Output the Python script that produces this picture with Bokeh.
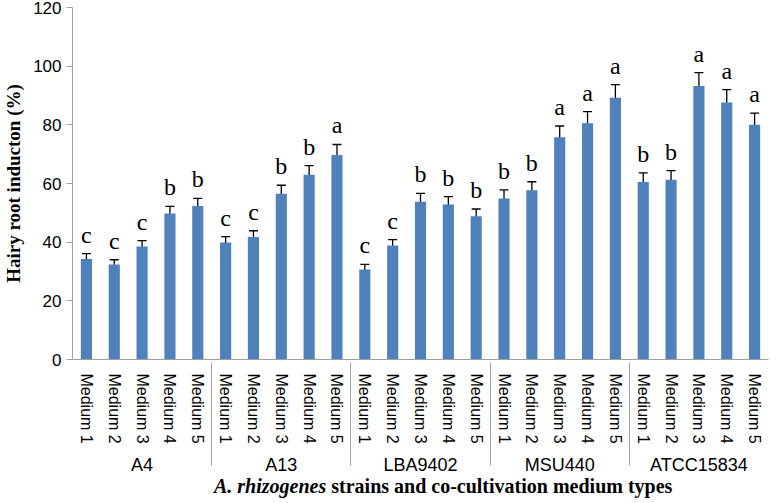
from bokeh.plotting import figure
from bokeh.models import ColumnDataSource, FactorRange, Whisker, TeeHead, FixedTicker, Div
from bokeh.layouts import column
from bokeh.core.properties import value
from bokeh.embed import file_html
from bokeh.resources import INLINE

strains = ["A4", "A13", "LBA9402", "MSU440", "ATCC15834"]
media = ["Medium 1", "Medium 2", "Medium 3", "Medium 4", "Medium 5"]

a4 = [34.3, 32.4, 38.5, 49.8, 52.3]
a13 = [39.9, 41.8, 56.5, 63.0, 69.7]
lba9402 = [30.7, 38.9, 53.8, 52.8, 48.8]
msu440 = [54.9, 57.7, 75.8, 80.5, 89.2]
atcc15834 = [60.5, 61.3, 93.2, 87.6, 80.0]

a4_err = [1.8, 1.6, 2.0, 2.4, 2.6]
a13_err = [2.0, 2.1, 2.9, 3.1, 3.6]
lba9402_err = [1.7, 2.0, 2.8, 2.7, 2.5]
msu440_err = [2.9, 2.9, 3.8, 4.0, 4.5]
atcc15834_err = [3.1, 3.1, 4.6, 4.4, 4.0]

a4_let = ["c", "c", "c", "b", "b"]
a13_let = ["c", "c", "b", "b", "a"]
lba9402_let = ["c", "c", "b", "b", "b"]
msu440_let = ["b", "b", "a", "a", "a"]
atcc15834_let = ["b", "b", "a", "a", "a"]

y_ticks = [0, 20, 40, 60, 80, 100, 120]

vals = [a4, a13, lba9402, msu440, atcc15834]
errs = [a4_err, a13_err, lba9402_err, msu440_err, atcc15834_err]
lets = [a4_let, a13_let, lba9402_let, msu440_let, atcc15834_let]

x, top, lo, hi, letter = [], [], [], [], []
for s, v, e, l in zip(strains, vals, errs, lets):
    for m, vv, ee, ll in zip(media, v, e, l):
        x.append((s, m))
        top.append(vv)
        lo.append(vv - ee)
        hi.append(vv + ee)
        letter.append(ll)

src = ColumnDataSource(dict(x=x, top=top, lo=lo, hi=hi, letter=letter))

p = figure(x_range=FactorRange(*x, range_padding=0, factor_padding=0, group_padding=0),
           y_range=(0, 120), width=770, height=477,
           output_backend="svg", toolbar_location=None,
           min_border_left=55, min_border_right=2, min_border_top=7, min_border_bottom=110)
p.outline_line_color = None
p.grid.visible = False
p.background_fill_color = "white"

p.vbar(x="x", top="top", width=0.4, source=src, fill_color="#4F81BD", line_color=None)
w = Whisker(base="x", lower="lo", upper="hi", source=src, line_color="black", line_width=1.3)
w.upper_head = TeeHead(size=9, line_color="black", line_width=1.3)
w.lower_head = TeeHead(size=9, line_color="black", line_width=1.3)
p.add_layout(w)

p.text(x="x", y="hi", text="letter", source=src, text_align="center", text_baseline="bottom",
       y_offset=-6, text_font=value("Liberation Serif"), text_font_size="24px", text_color="black")

ya = p.yaxis[0]
ya.ticker = FixedTicker(ticks=y_ticks)
ya.axis_label = "Hairy root inducton (%)"
ya.axis_label_text_font = "Liberation Serif"
ya.axis_label_text_font_style = "bold"
ya.axis_label_text_font_size = "19px"
ya.axis_label_text_color = "black"
ya.axis_label_standoff = 6
ya.major_label_text_font = "Liberation Sans"
ya.major_label_text_font_size = "17px"
ya.major_label_text_color = "black"
ya.axis_line_color = "#A0A0A0"
ya.major_tick_line_color = "#A0A0A0"
ya.major_tick_out = 6
ya.major_tick_in = 0
ya.minor_tick_line_color = None

xa = p.xaxis[0]
xa.major_label_orientation = "vertical"
xa.major_label_text_font = "Liberation Sans"
xa.major_label_text_font_size = "16px"
xa.major_label_text_color = "black"
xa.major_label_standoff = 8
xa.group_text_font = "Liberation Sans"
xa.group_text_font_size = "18px"
xa.group_text_color = "black"
xa.group_text_font_style = "normal"
xa.axis_line_color = "#A0A0A0"
xa.major_tick_line_color = None
xa.separator_line_color = "#A0A0A0"
xa.separator_line_width = 1

title = Div(text="<i>A. rhizogenes</i> strains and co-cultivation medium types",
            width=770, height=18, margin=(0, 0, 0, 0),
            styles={"font-family": "'Liberation Serif', serif", "font-size": "20px",
                    "font-weight": "bold", "color": "black", "padding-left": "214px",
                    "line-height": "18px", "white-space": "nowrap"})

layout = column(p, title, spacing=0)

open("out.html", "w").write(file_html(layout, INLINE))
